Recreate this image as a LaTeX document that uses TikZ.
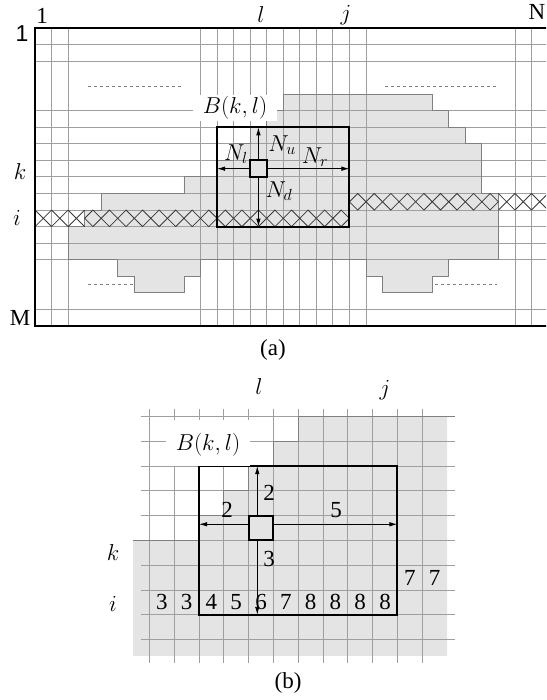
\RequirePackage{fix-cm}
\documentclass[tikz,border=0pt]{standalone}
\usepackage{fontspec}
\setmainfont{Liberation Serif}
\newfontfamily\lsans{Liberation Sans}
\usetikzlibrary{arrows.meta}
\begin{document}
\begin{tikzpicture}[x=1pt,y=-1pt,
  gridl/.style={draw=gray!75, line width=0.9pt},
  frame/.style={draw=black, line width=2.3pt},
  boxl/.style={draw=black, line width=2pt},
  shade/.style={fill=gray!21},
  outl/.style={draw=gray, line width=0.9pt},
  hatchl/.style={draw=gray!45!black, line width=0.8pt},
  arr/.style={-{Latex[length=8pt,width=4.5pt]}, line width=0.9pt},
  lab/.style={font=\fontsize{23}{27}\selectfont, inner sep=0pt},
  dotl/.style={draw=gray, line width=0.7pt, dash pattern=on 3pt off 3pt}]
\useasboundingbox (0,0) rectangle (546,700);
\clip (0,0) rectangle (546,700);

% ================= (a) =================
\begin{scope}[shift={(35pt,-28pt)}, x=16.55pt, y=-16.55pt]
  \fill[shade] (15,4) -- (24,4) -- (24,5) -- (25,5) -- (25,6) -- (26,6) -- (26,7) -- (27,7) -- (27,10) -- (28,10) -- (28,14) -- (25,14) -- (25,15) -- (24,15) -- (24,16) -- (21,16) -- (21,15) -- (20,15) -- (20,14) -- (10,14) -- (10,15) -- (9,15) -- (9,16) -- (6,16) -- (6,15) -- (5,15) -- (5,14) -- (2,14) -- (2,12) -- (3,12) -- (3,11) -- (4,11) -- (4,10) -- (9,10) -- (9,9) -- (11,9) -- (11,8) -- (12,8) -- (12,7) -- (13,7) -- (13,6) -- (14,6) -- (14,5) -- (15,5) -- cycle;
  \foreach \r in {1,2,5,6,7,8,9,10,11,12,13,14,17}
    \draw[gridl] (0,\r) -- (31.5,\r);
  \foreach \c in {1,2,10,11,12,13,14,15,16,17,18,19,20,29,30}
    \draw[gridl] (\c,0) -- (\c,18);
  \draw[outl] (15,4) -- (24,4) -- (24,5) -- (25,5) -- (25,6) -- (26,6) -- (26,7) -- (27,7) -- (27,10) -- (28,10) -- (28,14) -- (25,14) -- (25,15) -- (24,15) -- (24,16) -- (21,16) -- (21,15) -- (20,15) -- (20,14) -- (10,14) -- (10,15) -- (9,15) -- (9,16) -- (6,16) -- (6,15) -- (5,15) -- (5,14) -- (2,14) -- (2,12) -- (3,12) -- (3,11) -- (4,11) -- (4,10) -- (9,10) -- (9,9) -- (11,9) -- (11,8) -- (12,8) -- (12,7) -- (13,7) -- (13,6) -- (14,6) -- (14,5) -- (15,5) -- cycle;
  % hatched rows
  \foreach \c in {0,1,2}
    \draw[hatchl] (\c,11) -- (\c+1,12) (\c,12) -- (\c+1,11);
  \foreach \c in {3,...,18}
    \draw[hatchl] (\c,11.5) -- (\c+0.5,11) -- (\c+1,11.5) -- (\c+0.5,12) -- cycle;
  \foreach \c in {19,...,27}
    \draw[hatchl] (\c,10.5) -- (\c+0.5,10) -- (\c+1,10.5) -- (\c+0.5,11) -- cycle;
  \foreach \c in {28,29,30}
    \draw[hatchl] (\c,10) -- (\c+1,11) (\c,11) -- (\c+1,10);
  % frame
  \draw[frame] (31.5,0) -- (0,0) -- (0,18) -- (31.5,18);
  % box and cell
  \draw[boxl] (11,6) rectangle (19,12);
  \draw[boxl, fill=gray!21] (13,8) rectangle (14,9);
  \coordinate (aUs) at (13.5,8);   \coordinate (aUe) at (13.5,6);
  \coordinate (aDs) at (13.5,9);   \coordinate (aDe) at (13.5,12);
  \coordinate (aLs) at (13,8.5);   \coordinate (aLe) at (11,8.5);
  \coordinate (aRs) at (14,8.5);   \coordinate (aRe) at (19,8.5);
  \draw[arr] (aUs) -- (aUe);
  \draw[arr] (aDs) -- (aDe);
  \draw[arr] (aLs) -- (aLe);
  \draw[arr] (aRs) -- (aRe);
\end{scope}
\draw[dotl] (88,85.9) -- (182,85.9);
\draw[dotl] (385,85.9) -- (496.7,85.9);
\draw[dotl] (88,284.5) -- (133,284.5);
\draw[dotl] (435,284.5) -- (496.7,284.5);
\node[lab, fill=white, minimum width=84pt, minimum height=26pt] (Ba) at (235,108) {$B(k,l)$};
\node[lab] (Nu) at (282,145) {$N_u$};
\node[lab] (Nl) at (236,154) {$N_l$};
\node[lab] (Nr) at (315,157) {$N_r$};
\node[lab] (Nd) at (279,191) {$N_d$};
\node[lab] (c1) at (42,16) {1};
\node[lab] (r1) at (22,34) {\lsans 1};
\node[lab] (cN) at (537,12) {N};
\node[lab] (rM) at (20,318) {M};
\node[lab] (rk) at (20,172) {$k$};
\node[lab] (ri) at (17,218) {$i$};
\node[lab] (cl) at (261,15) {$l$};
\node[lab] (cj) at (346,15) {$j$};
\node[lab] (capa) at (273,350) {(a)};

% ================= (b) =================
\begin{scope}[shift={(-73.8pt,-317.2pt)}, x=24.8pt, y=-24.8pt]
  \fill[shade] (15,4) -- (21,4) -- (21,13.66) -- (8.34,13.66) -- (8.34,9) -- (11,9) -- (11,8) -- (12,8) -- (12,7) -- (13,7) -- (13,6) -- (14,6) -- (14,5) -- (15,5) -- cycle;
  \foreach \r in {4,5,6,7,8,10,11,12,13}
    \draw[gridl] (8.65,\r) -- (21.32,\r);
  \draw[gridl] (8.34,9) -- (21.32,9);
  \foreach \c in {9,...,20}
    \draw[gridl] (\c,3.7) -- (\c,13.94);
  \draw[outl] (8.34,9) -- (11,9) -- (11,8) -- (12,8) -- (12,7) -- (13,7) -- (13,6) -- (14,6) -- (14,5) -- (15,5) -- (15,4) -- (21.32,4);
  \draw[boxl] (11,6) rectangle (19,12);
  \draw[boxl, fill=gray!21] (13,8) rectangle (14,9);
  \coordinate (bUs) at (13.35,8);   \coordinate (bUe) at (13.35,6);
  \coordinate (bDs) at (13.35,9);   \coordinate (bDe) at (13.35,12);
  \coordinate (bLs) at (13,8.35);   \coordinate (bLe) at (11,8.35);
  \coordinate (bRs) at (14,8.35);   \coordinate (bRe) at (19,8.35);
  \draw[arr] (bUs) -- (bUe);
  \draw[arr] (bDs) -- (bDe);
  \draw[arr] (bLs) -- (bLe);
  \draw[arr] (bRs) -- (bRe);
  \foreach \c/\v [count=\n] in {9/3,10/3,11/4,12/5,13/6,14/7,15/8,16/8,17/8,18/8}
    \node[lab] (nb\n) at (\c+0.5,11.5) {\v};
  \node[lab] (s1) at (19.5,10.5) {7};
  \node[lab] (s2) at (20.5,10.5) {7};
\end{scope}
\fill[white] (166,420) rectangle (250,466);
\node[lab] (Bb) at (208,445) {$B(k,l)$};
\node[lab] (u2) at (269,493) {2};
\node[lab] (l2) at (227,510) {2};
\node[lab] (r5) at (336,510) {5};
\node[lab] (d3) at (269,559) {3};
\node[lab] (bl) at (259,387) {$l$};
\node[lab] (bj) at (385,390) {$j$};
\node[lab] (bk) at (113,553) {$k$};
\node[lab] (bi) at (113,604) {$i$};
\node[lab] (capb) at (288,683) {(b)};
\end{tikzpicture}
\end{document}
